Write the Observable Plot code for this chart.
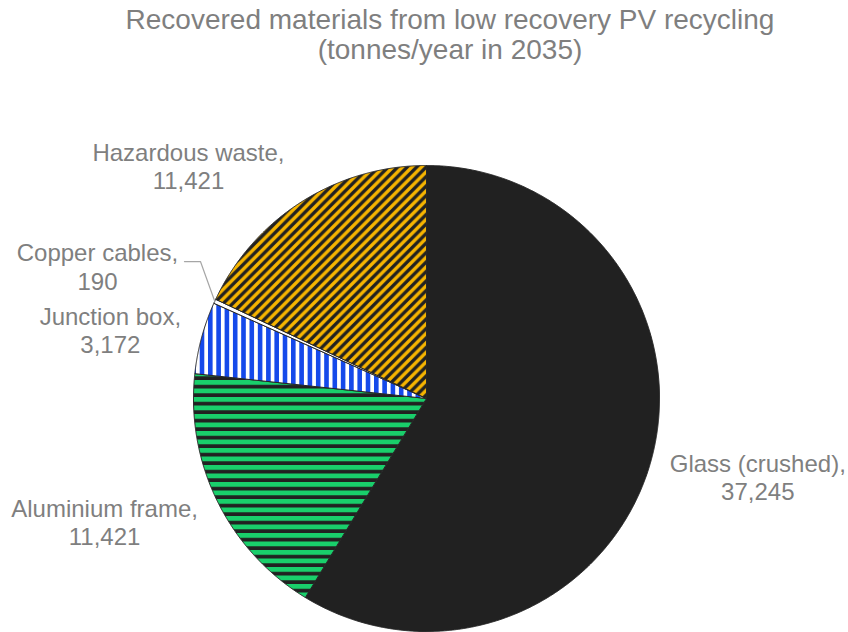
<!DOCTYPE html>
<html>
<head>
<meta charset="utf-8">
<script src="https://cdn.jsdelivr.net/npm/d3@7"></script>
<script src="https://cdn.jsdelivr.net/npm/@observablehq/plot@0.6"></script>
<style>
  html, body { margin: 0; padding: 0; background: #ffffff; }
  body { width: 848px; height: 632px; overflow: hidden; font-family: "Liberation Sans", Arial, sans-serif; }
  #title { box-sizing: border-box; height: 65px; padding-top: 5px; padding-left: 52px; text-align: center;
           font-size: 28px; line-height: 30px; color: #7f7f7f; }
  #chart svg { display: block; }
</style>
</head>
<body>
<div id="title">Recovered materials from low recovery PV recycling<br>(tonnes/year in 2035)</div>
<div id="chart"></div>
<script>
// ---- data ----
const categories = ["Glass (crushed)", "Aluminium frame", "Junction box", "Copper cables", "Hazardous waste"];
const values = [37245, 11421, 3172, 190, 11421];

// ---- styles / layout ----
const fills = ["#212121", "url(#pat-alu)", "url(#pat-junc)", "#ffffff", "url(#pat-haz)"];
const labelNudge = [[6, 13], [-19, 26], [10, -20], [-22, -9], [-57, -53]]; // pixel nudges (right, up)
const W = 848, H = 567, CX = 426, CY = 333, R = 233;

const data = categories.map((name, i) => ({name, value: values[i]}));
const arcs = d3.pie().sort(null).value(d => d.value)(data);

// slice polygons
const poly = [];
arcs.forEach(a => {
  const name = a.data.name;
  poly.push({name, x: 0, y: 0});
  const n = Math.max(2, Math.ceil((a.endAngle - a.startAngle) / (Math.PI / 720)));
  for (let k = 0; k <= n; k++) {
    const t = a.startAngle + (a.endAngle - a.startAngle) * k / n;
    poly.push({name, x: R * Math.sin(t), y: R * Math.cos(t)});
  }
  poly.push({name, x: 0, y: 0});
});

// labels
const fmt = d3.format(",");
const labels = arcs.map((a, i) => {
  const m = (a.startAngle + a.endAngle) / 2;
  return {
    text: `${a.data.name},\n${fmt(a.data.value)}`,
    x: 1.45 * R * Math.sin(m) + labelNudge[i][0],
    y: 1.45 * R * Math.cos(m) + labelNudge[i][1],
    mid: m, span: a.endAngle - a.startAngle
  };
});

// leader lines for very thin slices
const leaders = [];
labels.forEach((l, i) => {
  if (l.span < 3 * Math.PI / 180) {
    leaders.push({id: i, x: R * Math.sin(l.mid), y: R * Math.cos(l.mid)});
    leaders.push({id: i, x: l.x + 103, y: l.y + 5});
    leaders.push({id: i, x: l.x + 87, y: l.y + 5});
  }
});

const svg = Plot.plot({
  width: W, height: H,
  marginTop: 0, marginRight: 0, marginBottom: 0, marginLeft: 0,
  x: {domain: [-CX, W - CX], axis: null},
  y: {domain: [-(H - CY), CY], axis: null},
  color: {type: "ordinal", domain: categories, range: fills},
  style: {background: "transparent", overflow: "visible"},
  marks: [
    Plot.line(poly, {x: "x", y: "y", z: "name", fill: "name", stroke: "#262626", strokeWidth: 1, strokeLinejoin: "miter", curve: "linear"}),
    Plot.line(leaders, {x: "x", y: "y", z: "id", stroke: "#a6a6a6", strokeWidth: 1.2}),
    Plot.text(labels, {x: "x", y: "y", text: "text", fill: "#7f7f7f", fontSize: 24, lineHeight: 1.17,
      fontFamily: "'Liberation Sans', Arial, sans-serif", textAnchor: "middle"})
  ]
});

// patterns
const defs = d3.select(svg).insert("defs", ":first-child");
const pa = defs.append("pattern").attr("id", "pat-alu").attr("patternUnits", "userSpaceOnUse")
  .attr("width", 8.5).attr("height", 8.5);
pa.append("rect").attr("width", 8.5).attr("height", 8.5).attr("fill", "#212121");
pa.append("rect").attr("width", 8.5).attr("height", 4.8).attr("fill", "#19cf6b");

const pj = defs.append("pattern").attr("id", "pat-junc").attr("patternUnits", "userSpaceOnUse")
  .attr("width", 8.3).attr("height", 8.3);
pj.append("rect").attr("width", 8.3).attr("height", 8.3).attr("fill", "#ffffff");
pj.append("rect").attr("width", 4.6).attr("height", 8.3).attr("fill", "#1549ea");

const s = 9.5;
const ph = defs.append("pattern").attr("id", "pat-haz").attr("patternUnits", "userSpaceOnUse")
  .attr("width", s).attr("height", s);
ph.append("rect").attr("width", s).attr("height", s).attr("fill", "#212121");
ph.append("path").attr("d", `M-2,${s + 2}L${s + 2},-2M-2,2L2,-2M${s - 2},${s + 2}L${s + 2},${s - 2}`)
  .attr("stroke", "#f7b500").attr("stroke-width", 3.4).attr("fill", "none");

document.getElementById("chart").appendChild(svg);
</script>
</body>
</html>
